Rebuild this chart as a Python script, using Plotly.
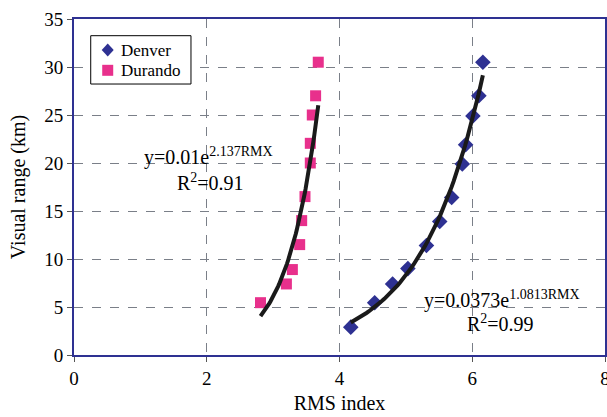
import numpy as np
import plotly.graph_objects as go

# ---- data ----
denver_rms = [4.17, 4.53, 4.80, 5.03, 5.31, 5.51, 5.69, 5.85, 5.90, 6.01, 6.10, 6.16]
denver_vr = [2.9, 5.45, 7.4, 9.0, 11.4, 13.9, 16.4, 19.9, 21.9, 24.9, 27.0, 30.5]
durando_rms = [2.81, 3.20, 3.29, 3.40, 3.43, 3.48, 3.56, 3.56, 3.59, 3.64, 3.68]
durando_vr = [5.45, 7.4, 8.9, 11.5, 14.0, 16.5, 20.0, 22.05, 25.0, 27.0, 30.5]

# exponential trendline coefficients shown on the chart
durando_a, durando_b = 0.01, 2.137
denver_a, denver_b = 0.0373, 1.0813

x_ticks = [0, 2, 4, 6, 8]
y_ticks = [0, 5, 10, 15, 20, 25, 30, 35]
series_names = ["Denver", "Durando"]

NAVY = "#2E3192"
PINK = "#E8308C"
FONT = "Liberation Serif, Times New Roman, serif"

fig = go.Figure()
fig.add_trace(go.Scatter(
    x=denver_rms, y=denver_vr, mode="markers", name=series_names[0],
    marker=dict(symbol="diamond", size=12, color=NAVY, line=dict(width=0)),
    showlegend=False,
))
fig.add_trace(go.Scatter(
    x=durando_rms, y=durando_vr, mode="markers", name=series_names[1],
    marker=dict(symbol="square", size=11, color=PINK, line=dict(width=0)),
    showlegend=False,
))

xd = np.linspace(min(durando_rms), max(durando_rms), 60)
fig.add_trace(go.Scatter(x=xd, y=durando_a * np.exp(durando_b * xd), mode="lines",
                         line=dict(color="#1a1a1a", width=4), showlegend=False,
                         hoverinfo="skip"))
xv = np.linspace(min(denver_rms), max(denver_rms), 60)
fig.add_trace(go.Scatter(x=xv, y=denver_a * np.exp(denver_b * xv), mode="lines",
                         line=dict(color="#1a1a1a", width=4), showlegend=False,
                         hoverinfo="skip"))

ann_font = dict(family=FONT, size=20, color="black")
fig.add_annotation(x=2.03, y=20.7, xref="x", yref="y", showarrow=False,
                   text="y=0.01e<sup>2.137RMX</sup>", font=ann_font,
                   xanchor="center", yanchor="middle")
fig.add_annotation(x=2.05, y=18.0, xref="x", yref="y", showarrow=False,
                   text="R<sup>2</sup>=0.91", font=ann_font,
                   xanchor="center", yanchor="middle")
fig.add_annotation(x=6.45, y=5.8, xref="x", yref="y", showarrow=False,
                   text="y=0.0373e<sup>1.0813RMX</sup>", font=ann_font,
                   xanchor="center", yanchor="middle")
fig.add_annotation(x=6.43, y=3.3, xref="x", yref="y", showarrow=False,
                   text="R<sup>2</sup>=0.99", font=ann_font,
                   xanchor="center", yanchor="middle")

# ---- legend box (drawn by hand to match compact spacing) ----
fig.add_shape(type="rect", xref="paper", yref="paper",
              x0=0.0315, x1=0.2203, y0=0.8065, y1=0.9503,
              line=dict(color="black", width=1), fillcolor="white", layer="above")
fig.add_shape(type="path", xref="paper", yref="paper", xsizemode="pixel", ysizemode="pixel",
              xanchor=0.0635, yanchor=0.9077,
              path="M 0,6.5 L 6,0 L 0,-6.5 L -6,0 Z",
              fillcolor=NAVY, line=dict(width=0), layer="above")
fig.add_shape(type="path", xref="paper", yref="paper", xsizemode="pixel", ysizemode="pixel",
              xanchor=0.0635, yanchor=0.8473,
              path="M -5.5,-5.5 L 5.5,-5.5 L 5.5,5.5 L -5.5,5.5 Z",
              fillcolor=PINK, line=dict(width=0), layer="above")
leg_font = dict(family=FONT, size=17, color="black")
fig.add_annotation(x=0.0847, y=0.9077, xref="paper", yref="paper", showarrow=False,
                   text=series_names[0], font=leg_font, xanchor="left", yanchor="middle")
fig.add_annotation(x=0.0847, y=0.8473, xref="paper", yref="paper", showarrow=False,
                   text=series_names[1], font=leg_font, xanchor="left", yanchor="middle")

axis_common = dict(
    showline=True, linecolor=NAVY, linewidth=2, mirror=True,
    showgrid=True, gridcolor="#7A7F88", gridwidth=1, griddash="dash",
    zeroline=False, ticks="outside", ticklen=5, tickcolor="#555555", tickwidth=1,
    tickfont=dict(family=FONT, size=19, color="black"),
    automargin=False, ticklabeloverflow="allow",
)

fig.update_xaxes(range=[0, 8], tickvals=x_ticks,
                 title=dict(text="RMS index", font=dict(family=FONT, size=20, color="black"),
                            standoff=8),
                 **axis_common)
fig.update_yaxes(range=[0, 35], tickvals=y_ticks,
                 title=dict(text="Visual range (km)", font=dict(family=FONT, size=20, color="black"),
                            standoff=13),
                 **axis_common)

fig.update_layout(
    width=607, height=417,
    margin=dict(l=74, r=2, t=19, b=62, autoexpand=False),
    plot_bgcolor="white", paper_bgcolor="white",
    font=dict(family=FONT, color="black"),
    showlegend=False,
)

fig.write_html("out.html", config={"displayModeBar": False},
               post_script="document.body.style.margin='0';document.body.style.overflow='hidden';")
